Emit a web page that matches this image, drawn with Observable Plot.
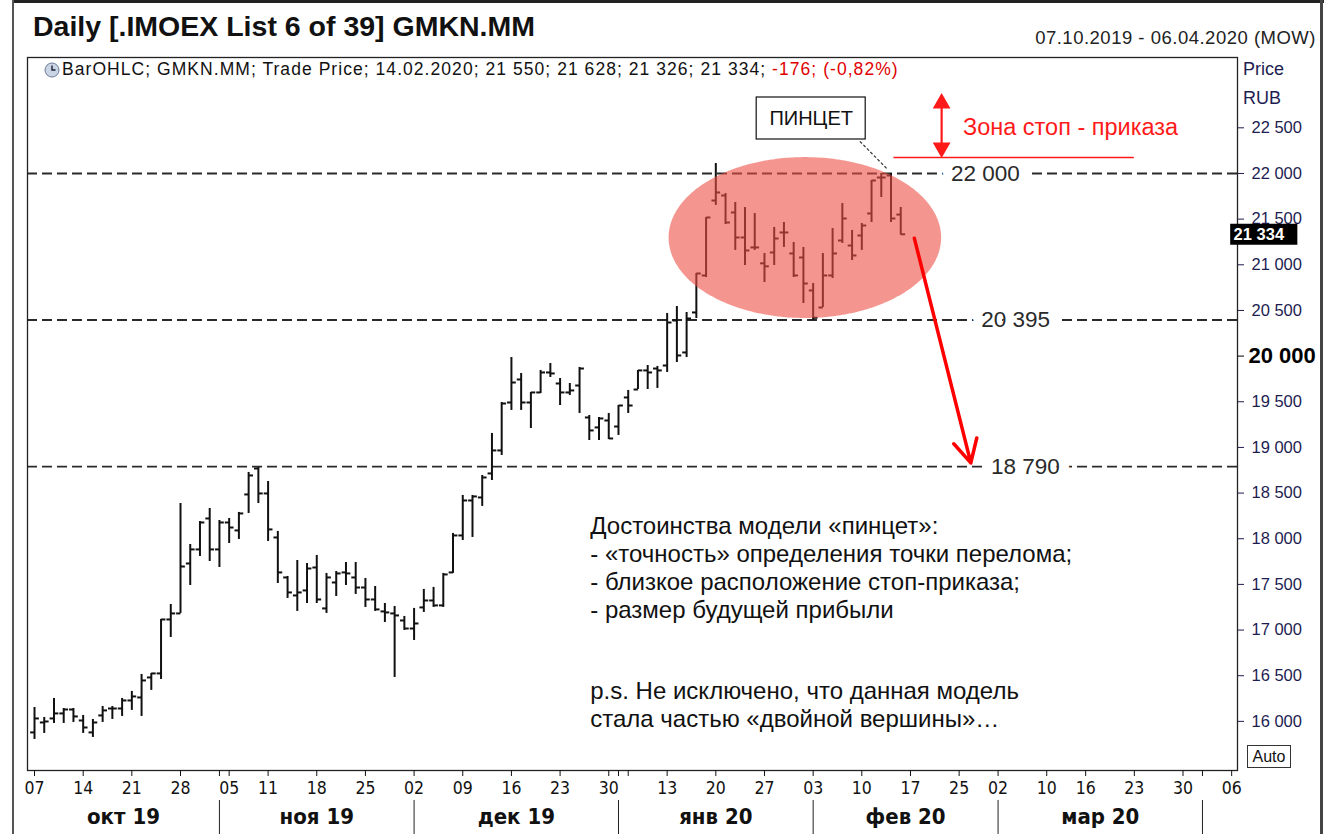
<!DOCTYPE html>
<html>
<head>
<meta charset="utf-8">
<script src="https://cdn.jsdelivr.net/npm/d3@7"></script>
<script src="https://cdn.jsdelivr.net/npm/@observablehq/plot@0.6"></script>
<style>
  body { margin: 0; background: #fff; font-family: "Liberation Sans", Arial, sans-serif; }
  #wrap { position: relative; width: 1330px; height: 834px; overflow: hidden; background: #fff; }
  #chart { position: absolute; left: 0; top: 0; }
  .abs { position: absolute; white-space: nowrap; }
  #title { left: 33px; top: 10px; font-size: 28.5px; font-weight: bold; color: #111; }
  #range { right: 14px; top: 27px; font-size: 18.5px; letter-spacing: 0.5px; color: #222; }
  #legend { left: 44px; top: 59px; font-size: 17.5px; letter-spacing: 1.05px; color: #111; display: flex; align-items: center; }
  #legend .neg { color: #e00000; }
  #price { left: 1243px; top: 55px; font-size: 18px; color: #1d1d52; line-height: 29px; }
  #auto { left: 1247px; top: 745px; width: 42px; height: 21px; border: 1px solid #333; font-size: 16px; line-height: 21px; text-align: center; color: #111; }
  #frameTop { left: 12px; top: 0; width: 1312px; height: 3px; background: #222; }
  #frameLeft { left: 12px; top: 0; width: 1.5px; height: 834px; background: #555; }
  #frameRight { left: 1320px; top: 0; width: 3px; height: 834px; background: #444; }
</style>
</head>
<body>
<div id="wrap">
  <div id="chart"></div>
  <div class="abs" id="frameTop"></div>
  <div class="abs" id="frameLeft"></div>
  <div class="abs" id="frameRight"></div>
  <div class="abs" id="title">Daily [.IMOEX List 6 of 39] GMKN.MM</div>
  <div class="abs" id="range">07.10.2019 - 06.04.2020 (MOW)</div>
  <div class="abs" id="legend">
    <svg width="16" height="16" viewBox="0 0 16 16" style="margin-right:2px">
      <circle cx="8" cy="8" r="7" fill="#c9d4e4" stroke="#6c7c96" stroke-width="1"/>
      <path d="M8 3.5 V8 H11.5" stroke="#223" stroke-width="1.4" fill="none"/>
    </svg>
    <span>BarOHLC; GMKN.MM; Trade Price; 14.02.2020; 21 550; 21 628; 21 326; 21 334; <span class="neg">-176; (-0,82%)</span></span>
  </div>
  <div class="abs" id="price">Price<br>RUB</div>
  <div class="abs" id="auto">Auto</div>
</div>
<script>
// ---- trading days (one bar each) ----
const datesOct = ["07.10.2019","08.10.2019","09.10.2019","10.10.2019","11.10.2019","14.10.2019","15.10.2019","16.10.2019","17.10.2019","18.10.2019","21.10.2019","22.10.2019","23.10.2019","24.10.2019","25.10.2019","28.10.2019","29.10.2019","30.10.2019","31.10.2019"];
const datesNov = ["01.11.2019","05.11.2019","06.11.2019","07.11.2019","08.11.2019","11.11.2019","12.11.2019","13.11.2019","14.11.2019","15.11.2019","18.11.2019","19.11.2019","20.11.2019","21.11.2019","22.11.2019","25.11.2019","26.11.2019","27.11.2019","28.11.2019","29.11.2019"];
const datesDec = ["02.12.2019","03.12.2019","04.12.2019","05.12.2019","06.12.2019","09.12.2019","10.12.2019","11.12.2019","12.12.2019","13.12.2019","16.12.2019","17.12.2019","18.12.2019","19.12.2019","20.12.2019","23.12.2019","24.12.2019","25.12.2019","26.12.2019","27.12.2019","30.12.2019"];
const datesJan = ["03.01.2020","06.01.2020","08.01.2020","09.01.2020","10.01.2020","13.01.2020","14.01.2020","15.01.2020","16.01.2020","17.01.2020","20.01.2020","21.01.2020","22.01.2020","23.01.2020","24.01.2020","27.01.2020","28.01.2020","29.01.2020","30.01.2020","31.01.2020"];
const datesFeb = ["03.02.2020","04.02.2020","05.02.2020","06.02.2020","07.02.2020","10.02.2020","11.02.2020","12.02.2020","13.02.2020","14.02.2020"];
const dates = [...datesOct, ...datesNov, ...datesDec, ...datesJan, ...datesFeb];

// ---- OHLC (RUB) ----
const open = [15879,15988,16032,16087,16130,16010,15879,16065,16141,16141,16229,16262,16481,16525,17116,17182,17729,17883,18222,
  17883,18178,18091,18485,18769,18496,18014,17576,17379,17434,17685,17237,17521,17631,17576,17466,17335,17204,17182,17105,
  17017,17248,17324,17270,17631,18036,18419,18452,18715,18967,19492,19744,19492,19602,19821,19700,19602,19678,19328,19219,19295,
  19229,19547,19634,19843,19864,19897,20390,20040,20478,20883,21704,21759,21573,21299,21190,21016,21135,21354,21124,21080,
  20719,20532,20883,21266,21211,21321,21562,21956,21978,21550];
const high = [16152,16043,16251,16141,16141,16065,16021,16163,16163,16251,16328,16514,16525,17116,17280,18386,17937,18189,18331,
  18200,18222,18288,18726,18780,18627,18080,17587,17762,17729,17817,17620,17641,17740,17740,17565,17477,17291,17258,17149,
  17237,17445,17467,17620,18058,18474,18474,18693,19153,19492,19985,19810,19602,19843,19919,19755,19700,19876,19350,19328,19372,
  19459,19624,19843,19897,19887,20467,20543,20478,20905,21518,22109,21781,21682,21627,21562,21124,21409,21463,21244,21190,
  20795,21124,21397,21671,21376,21452,21923,22000,22000,21628];
const low = [15802,15868,15977,15977,15988,15868,15824,15988,16021,16054,16120,16054,16339,16459,16919,17182,17488,17806,17751,
  17685,17948,17992,18277,18386,17970,17510,17346,17204,17291,17291,17182,17368,17488,17390,17247,17204,17083,16481,16996,
  16886,17193,17248,17248,17620,17981,18014,18354,18638,18912,19405,19405,19207,19591,19766,19459,19569,19372,19076,19076,19087,
  19131,19372,19634,19634,19646,19821,19930,19985,20412,20861,21650,21441,21157,20992,21157,20806,20992,21190,20861,20576,
  20395,20532,20850,21233,21047,21157,21463,21737,21463,21326];
const close = [16032,15999,16087,16130,16054,15933,15988,16120,16141,16229,16273,16448,16525,17116,17182,17696,17883,18178,17883,
  18178,18123,18277,18693,18496,18102,17631,17412,17412,17674,17335,17576,17620,17620,17466,17335,17226,17193,17160,17017,
  17072,17324,17270,17609,18036,18419,18463,18671,18967,19481,19711,19492,19602,19821,19810,19602,19624,19864,19186,19317,19098,
  19459,19459,19843,19821,19843,20368,20007,20412,20905,21518,21792,21463,21299,21157,21190,20983,21288,21354,20883,20795,
  20420,20883,21124,21507,21102,21430,21923,21956,21507,21334];

// ---- axes ----
const priceTicks = [16000,16500,17000,17500,18000,18500,19000,19500,20000,20500,21000,21500,22000,22500];
const boldPriceTick = 20000;
const dayTickIdx = [0,5,10,15,20,24,29,34,39,44,49,54,59,65,70,75,80,85,90,95,99,104,108,113,118,123];
const dayTickLabels = ["07","14","21","28","05","11","18","25","02","09","16","23","30","13","20","27","03","10","17","25","02","10","16","23","30","06"];
const minorTickIdx = [19,60,61,120];
const monthStartIdx = [19,39,60,80,99,120];
const monthLabels = ["окт 19","ноя 19","дек 19","янв 20","фев 20","мар 20"];
const xDomain = [-0.72, 123.6];
const yDomain = [15462, 23270];

// ---- annotations ----
const levels = [22000, 20395, 18790];
const levelLabels = ["22 000", "20 395", "18 790"];
const levelLabelIdx = [97.7, 100.8, 101.8];
const ellipseCenter = {x: 79.2, y: 21293};
const ellipseRadius = {x: 14.0, y: 881};
const forecastArrow = [{x1: 90.4, y1: 21290, x2: 96.2, y2: 18830}];
const stopZone = {x: 93.2, top: 22854, bottom: 22197, line: 22175, x1: 88.3, x2: 113};
const stopText = "Зона стоп - приказа";
const patternBox = {x1: 74.2, x2: 85.4, y1: 22372, y2: 22832, label: "ПИНЦЕТ"};
const patternLink = [{x1: 84.8, y1: 22352, x2: 87.6, y2: 22050}];
const notes = ["Достоинства модели «пинцет»:", "- «точность» определения точки перелома;", "- близкое расположение стоп-приказа;", "- размер будущей прибыли", "p.s. Не исключено, что данная модель", "стала частью «двойной вершины»…"];
const notesY = [18134, 17828, 17521, 17215, 16333, 16027];
const notesX = 57.1;

const bars = dates.map((d, i) => ({i, date: d, o: open[i], h: high[i], l: low[i], c: close[i]}));
const last = bars[bars.length - 1];

const loc = d3.formatLocale({decimal: ",", thousands: " ", grouping: [3], currency: ["", ""]});
const fmt = loc.format(",d");

const tickMap = new Map(dayTickIdx.map((v, k) => [v, dayTickLabels[k]]));
const bounds = [xDomain[0], ...monthStartIdx];
const monthCenters = monthLabels.map((_, k) => (bounds[k] + bounds[k + 1]) / 2);
const monthMap = new Map(monthCenters.map((v, k) => [v, monthLabels[k]]));

const ell = d3.range(0, 181).map(k => {
  const th = Math.PI * k / 180;
  return {x: ellipseCenter.x - ellipseRadius.x * Math.cos(th),
          y1: ellipseCenter.y - ellipseRadius.y * Math.sin(th),
          y2: ellipseCenter.y + ellipseRadius.y * Math.sin(th)};
});

const narrow = "'Liberation Sans Narrow', 'DejaVu Sans Condensed', Arial, sans-serif";

const chart = Plot.plot({
  width: 1330, height: 834,
  marginLeft: 27, marginRight: 93, marginTop: 57, marginBottom: 64,
  x: {domain: xDomain, axis: null},
  y: {domain: yDomain, axis: null},
  style: {fontFamily: "'Liberation Sans', Arial, sans-serif", background: "transparent", overflow: "visible"},
  marks: [
    // level lines
    Plot.ruleY(levels, {stroke: "#2a2a2a", strokeWidth: 1.9, strokeDasharray: "10,5"}),
    Plot.text(levels, {x: (d, k) => levelLabelIdx[k], y: d => d, text: (d, k) => levelLabels[k],
      fontSize: 22.5, fill: "#2a2a2a", stroke: "white", strokeWidth: 20, paintOrder: "stroke"}),
    // OHLC bars
    Plot.ruleX(bars, {x: "i", y1: "l", y2: "h", stroke: "#111", strokeWidth: 2}),
    Plot.link(bars, {x1: d => d.i - 0.45, x2: "i", y1: "o", y2: "o", stroke: "#111", strokeWidth: 2}),
    Plot.link(bars, {x1: "i", x2: d => d.i + 0.45, y1: "c", y2: "c", stroke: "#111", strokeWidth: 2}),
    // ellipse highlight
    Plot.areaY(ell, {x: "x", y1: "y1", y2: "y2", fill: "rgb(237,80,68)", fillOpacity: 0.6}),
    // forecast arrow
    Plot.arrow(forecastArrow, {x1: "x1", y1: "y1", x2: "x2", y2: "y2", stroke: "#ff0000", strokeWidth: 3.5, headLength: 11, headAngle: 55}),
    // stop zone
    Plot.ruleY([stopZone.line], {x1: stopZone.x1, x2: stopZone.x2, stroke: "#ff1a1a", strokeWidth: 1.6}),
    Plot.ruleX([stopZone.x], {y1: stopZone.top - 100, y2: stopZone.bottom + 100, stroke: "#ff1a1a", strokeWidth: 2.2}),
    Plot.dot([stopZone.top - 85], {x: stopZone.x, y: d => d, symbol: "triangle2", r: 8.5, fill: "#ff1a1a", stroke: "none"}),
    Plot.dot([stopZone.bottom + 85], {x: stopZone.x, y: d => d, symbol: "triangle2", r: 8.5, fill: "#ff1a1a", stroke: "none", rotate: 180}),
    Plot.text([stopText], {x: stopZone.x + 2.2, y: 22504, text: d => d, textAnchor: "start", fontSize: 23.5, fill: "#ff1a1a"}),
    // pattern callout
    Plot.link(patternLink, {x1: "x1", y1: "y1", x2: "x2", y2: "y2", stroke: "#333", strokeWidth: 1.2, strokeDasharray: "3,2"}),
    Plot.rect([patternBox], {x1: "x1", x2: "x2", y1: "y1", y2: "y2", fill: "white", stroke: "#111", strokeWidth: 1.2}),
    Plot.text([patternBox], {x: d => (d.x1 + d.x2) / 2, y: d => (d.y1 + d.y2) / 2, text: "label", fontSize: 20, fill: "#111"}),
    // notes
    Plot.text(notes, {x: notesX, y: (d, k) => notesY[k], text: d => d, textAnchor: "start", fontSize: 24, fill: "#111"}),
    // frame
    Plot.frame({stroke: "#222", strokeWidth: 1.3}),
    // price axis
    Plot.axisY({anchor: "right", ticks: priceTicks.filter(v => v !== boldPriceTick), tickFormat: fmt, tickSize: 6, tickPadding: 8,
      fontSize: 16.5, color: "#1d1d52", label: null}),
    Plot.axisY({anchor: "right", ticks: [boldPriceTick], tickFormat: fmt, tickSize: 6, tickPadding: 5,
      fontSize: 22, fontWeight: "bold", color: "#000", label: null}),
    // last price tag
    Plot.ruleY([last.c], {x1: 122.9, x2: 129.8, stroke: "#000", strokeWidth: 21}),
    Plot.text([last.c], {x: 123.2, y: d => d, text: d => fmt(d), textAnchor: "start", fill: "#fff", fontWeight: "bold", fontSize: 16.5}),
    // date axis
    Plot.axisX({anchor: "bottom", ticks: dayTickIdx, tickFormat: d => tickMap.get(d) ?? "", tickSize: 6, tickPadding: 5,
      fontSize: 17.5, fontFamily: narrow, color: "#111", label: null}),
    Plot.axisX({anchor: "bottom", ticks: minorTickIdx, tickFormat: () => "", tickSize: 6, color: "#111", label: null}),
    Plot.axisX({anchor: "bottom", ticks: monthStartIdx, tickFormat: () => "", tickSize: 34, dy: 30, color: "#222", label: null}),
    Plot.axisX({anchor: "bottom", ticks: monthCenters, tickFormat: d => monthMap.get(d) ?? "", tickSize: 0, tickPadding: 0, dy: 38,
      fontSize: 22, fontWeight: "bold", fontFamily: narrow, color: "#111", label: null})
  ]
});
document.getElementById("chart").appendChild(chart);
</script>
</body>
</html>
